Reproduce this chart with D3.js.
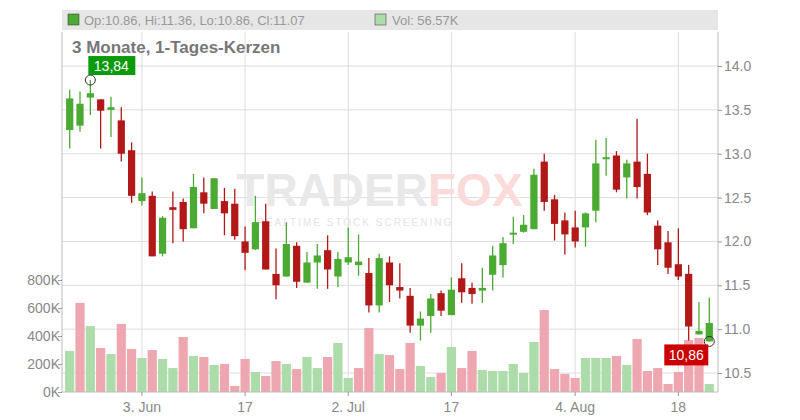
<!DOCTYPE html>
<html><head><meta charset="utf-8">
<script src="https://cdn.jsdelivr.net/npm/d3@7"></script>
<style>body{margin:0;background:#fff}svg{font-family:"Liberation Sans",Arial,sans-serif}</style>
</head><body><svg id="c" width="800" height="420"></svg>
<script>
const open_ =[13.27,13.32,13.64,13.62,13.50,13.38,13.04,12.46,12.52,11.86,12.39,12.45,12.15,12.56,12.37,12.46,12.43,12.00,11.91,12.23,11.63,11.60,11.95,11.53,11.76,11.90,11.60,11.76,11.73,11.64,11.27,11.76,11.48,11.38,11.04,11.15,11.41,11.16,11.58,11.47,11.44,11.62,11.73,12.08,12.11,12.14,12.91,12.48,12.24,12.16,12.16,12.35,12.94,12.98,12.73,12.91,12.77,12.18,11.99,11.74,11.63,10.94,10.86];
const high =[13.73,13.71,13.84,13.62,13.65,13.53,13.13,12.73,12.57,12.29,12.57,12.49,12.77,12.73,12.72,12.61,12.60,12.17,12.52,12.43,11.92,12.22,11.99,11.88,11.97,12.07,11.88,12.16,12.08,11.81,11.86,11.83,11.75,11.47,11.20,11.40,11.44,11.59,11.75,11.53,11.70,11.95,12.05,12.28,12.30,12.83,13.00,12.53,12.33,12.35,12.33,13.16,13.18,13.03,12.93,13.40,13.00,12.24,12.12,12.15,11.73,11.31,11.36];
const low  =[13.06,13.25,13.44,13.06,13.19,12.91,12.44,12.41,11.83,11.83,11.98,12.00,12.15,12.32,12.37,12.07,12.02,11.67,11.90,11.68,11.34,11.60,11.47,11.53,11.46,11.46,11.48,11.73,11.61,11.19,11.19,11.31,11.35,10.96,10.87,10.96,11.15,11.16,11.30,11.29,11.30,11.44,11.59,11.97,12.10,12.14,12.35,12.01,11.85,11.93,11.94,12.22,12.75,12.56,12.49,12.49,12.30,11.73,11.63,11.56,10.87,10.94,10.86];
const close=[13.63,13.57,13.69,13.49,13.53,13.00,12.52,12.55,11.83,12.27,12.36,12.14,12.62,12.43,12.72,12.32,12.06,11.87,12.22,11.68,11.50,11.97,11.54,11.76,11.84,11.68,11.80,11.82,11.77,11.27,11.81,11.50,11.44,11.04,11.12,11.35,11.21,11.45,11.42,11.40,11.47,11.84,11.98,12.10,12.19,12.76,12.45,12.20,12.08,12.00,12.32,12.89,12.96,12.59,12.89,12.62,12.33,11.91,11.70,11.60,11.03,10.98,11.07];
const volume=[293,636,471,314,271,486,307,243,300,236,171,393,257,250,193,200,43,236,143,114,221,200,164,250,171,250,350,100,171,457,271,264,164,350,186,107,136,321,171,293,157,150,150,200,136,357,586,164,129,100,243,243,243,257,193,379,150,171,57,143,371,386,57];
const xTickIdx=[7,17,27,37,49,59];
const xTickLabels=["3. Jun","17","2. Jul","17","4. Aug","18"];
const priceTicks=[10.5,11.0,11.5,12.0,12.5,13.0,13.5,14.0];
const volTicks=[0,200,400,600,800];

const svg=d3.select("#c");
const L=62,R=718,T=32,B=392;
const idx=d3.range(open_.length);
const x=d3.scaleBand().domain(idx).range([63,716]).padding(0.3);
const xc=i=>x(i)+x.bandwidth()/2;
const y=d3.scaleLinear().domain([10.5,14]).range([373,66]);
const yv=d3.scaleLinear().domain([0,800]).range([B,280]);
const G="#4aaa32",Rd="#b31818",VG="#acdcaa",VR="#eea7b0";

svg.append("rect").attr("x",L).attr("y",10).attr("width",R-L).attr("height",20).attr("fill","#e6e6e6");
svg.append("rect").attr("x",68).attr("y",14).attr("width",11).attr("height",11).attr("fill",G).attr("stroke","#333").attr("stroke-width",0.5);
svg.append("text").attr("x",84).attr("y",25).attr("font-size",13).attr("fill","#999").text("Op:10.86, Hi:11.36, Lo:10.86, Cl:11.07");
svg.append("rect").attr("x",375).attr("y",14).attr("width",11).attr("height",11).attr("fill",VG).attr("stroke","#333").attr("stroke-width",0.5);
svg.append("text").attr("x",392).attr("y",25).attr("font-size",13).attr("fill","#999").text("Vol: 56.57K");

svg.append("g").selectAll("line").data(priceTicks).join("line")
 .attr("x1",L).attr("x2",R).attr("y1",d=>y(d)).attr("y2",d=>y(d)).attr("stroke","#ddd");
svg.append("g").selectAll("line").data(xTickIdx).join("line")
 .attr("x1",d=>xc(d)).attr("x2",d=>xc(d)).attr("y1",T).attr("y2",B).attr("stroke","#ddd");

svg.append("text").attr("x",428).attr("y",206).attr("text-anchor","end").attr("font-size",46).attr("font-weight","bold").attr("fill","#e8e8e8").text("TRADER");
svg.append("text").attr("x",428).attr("y",206).attr("font-size",46).attr("font-weight","bold").attr("fill","#fbdada").text("FOX");
svg.append("text").attr("x",355).attr("y",226).attr("text-anchor","middle").attr("font-size",10).attr("letter-spacing",2).attr("fill","#e4e4e4").text("REALTIME STOCK SCREENING");

svg.append("text").attr("x",72).attr("y",53).attr("font-size",17).attr("font-weight","bold").attr("fill","#777").text("3 Monate, 1-Tages-Kerzen");

svg.append("g").selectAll("rect").data(idx).join("rect")
 .attr("x",d=>x(d)-1).attr("width",x.bandwidth()+2)
 .attr("y",d=>yv(volume[d])).attr("height",d=>B-yv(volume[d]))
 .attr("fill",d=>(d===0||close[d]>=close[d-1])?VG:VR);

const cg=svg.append("g").selectAll("g").data(idx).join("g");
cg.append("line").attr("x1",xc).attr("x2",xc).attr("y1",d=>y(high[d])).attr("y2",d=>y(low[d]))
 .attr("stroke",d=>close[d]>=open_[d]?G:Rd).attr("stroke-width",1.3);
cg.append("rect").attr("x",d=>x(d)).attr("width",x.bandwidth())
 .attr("y",d=>y(Math.max(open_[d],close[d])))
 .attr("height",d=>Math.max(2,Math.abs(y(open_[d])-y(close[d]))))
 .attr("fill",d=>close[d]>=open_[d]?G:Rd);

svg.append("line").attr("x1",L).attr("x2",L).attr("y1",T).attr("y2",B).attr("stroke","#bbb");
svg.append("line").attr("x1",R).attr("x2",R).attr("y1",T).attr("y2",B).attr("stroke","#bbb");
svg.append("line").attr("x1",L).attr("x2",R).attr("y1",B).attr("y2",B).attr("stroke","#bbb");
const ra=svg.append("g").attr("transform",`translate(${R},0)`).call(d3.axisRight(y).tickValues(priceTicks).tickSize(4).tickFormat(d3.format(".1f")));
ra.select(".domain").remove();
ra.selectAll("line").attr("stroke","#999");
ra.selectAll("text").attr("font-size",14).attr("fill","#888").attr("x",6);
const la=svg.append("g").attr("transform",`translate(${L},0)`).call(d3.axisLeft(yv).tickValues(volTicks).tickSize(4).tickFormat(d=>d+"K"));
la.select(".domain").remove();
la.selectAll("line").attr("stroke","#999");
la.selectAll("text").attr("font-size",14).attr("fill","#888").attr("x",-2);
svg.append("g").selectAll("text").data(xTickIdx).join("text")
 .attr("x",d=>xc(d)).attr("y",412).attr("text-anchor","middle").attr("font-size",14).attr("fill","#888")
 .text((d,i)=>xTickLabels[i]);
svg.append("g").selectAll("line").data(xTickIdx).join("line")
 .attr("x1",d=>xc(d)).attr("x2",d=>xc(d)).attr("y1",B).attr("y2",B+4).attr("stroke","#999");

const iMax=d3.maxIndex(high), iMin=d3.minIndex(low);
svg.append("circle").attr("cx",xc(iMax)).attr("cy",y(high[iMax])).attr("r",5).attr("fill","none").attr("stroke","#333");
svg.append("rect").attr("x",xc(iMax)-2).attr("y",y(high[iMax])-24).attr("width",47).attr("height",19).attr("fill","#0a9a0a");
svg.append("text").attr("x",xc(iMax)+21).attr("y",y(high[iMax])-9).attr("text-anchor","middle").attr("font-size",14).attr("fill","#fff").text(d3.format(".2f")(high[iMax]).replace(".",","));
svg.append("circle").attr("cx",xc(iMin)).attr("cy",y(low[iMin])).attr("r",5).attr("fill","none").attr("stroke","#333");
svg.append("rect").attr("x",xc(iMin)-45).attr("y",y(low[iMin])+3).attr("width",44).attr("height",21).attr("fill","#cc0000");
svg.append("text").attr("x",xc(iMin)-23).attr("y",y(low[iMin])+19).attr("text-anchor","middle").attr("font-size",14).attr("fill","#fff").text(d3.format(".2f")(low[iMin]).replace(".",","));
</script></body></html>
